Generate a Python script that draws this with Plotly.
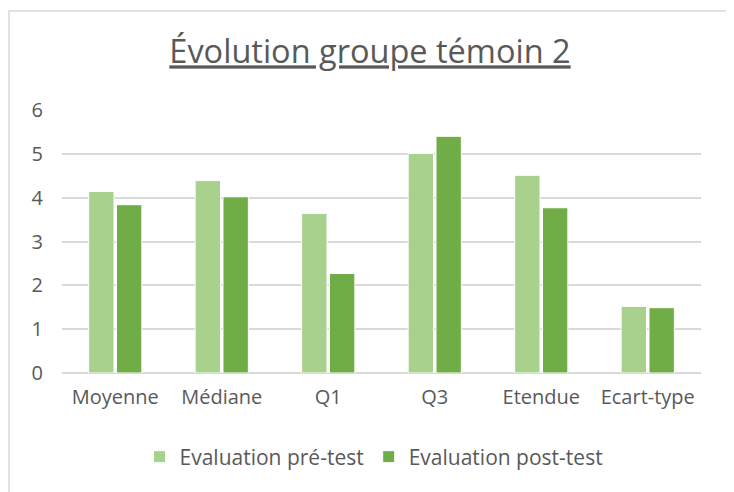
import plotly.graph_objects as go

categories = ["Moyenne", "Médiane", "Q1", "Q3", "Etendue", "Ecart-type"]
pre_test = [4.14, 4.39, 3.64, 5.01, 4.51, 1.52]
post_test = [3.84, 4.02, 2.27, 5.40, 3.77, 1.49]
series_names = ["Evaluation pré-test", "Evaluation post-test"]
title_text = "Évolution groupe témoin 2"

# page body has an 8px default margin; figure is sized to fill the rest
OFF = 8
W, H = 734 - OFF, 492 - OFF
PL, PR, PT, PB = 62, 701, 110, 373      # plot area in window pixels
L, R, T, B = PL - OFF, 734 - PR, PT - OFF, 492 - PB
pw, ph = PR - PL, PB - PT

font_family = "Open Sans"
text_color = "#595959"
grid_color = "#D9D9D9"

fig = go.Figure()
fig.add_trace(go.Bar(x=categories, y=pre_test, name=series_names[0],
                     marker=dict(color="#A9D18E", line=dict(color="white", width=1))))
fig.add_trace(go.Bar(x=categories, y=post_test, name=series_names[1],
                     marker=dict(color="#70AD47", line=dict(color="white", width=1))))

def px_x(p):
    return (p - PL) / pw

def px_y(p):
    return (PB - p) / ph

fig.update_layout(
    width=W, height=H,
    margin=dict(l=L, r=R, t=T, b=B, autoexpand=False),
    paper_bgcolor="white", plot_bgcolor="white",
    barmode="group", bargap=0.477, bargroupgap=0.09,
    font=dict(family=font_family, color=text_color, size=20),
    title=dict(text="<u>" + title_text + "</u>", x=px_x(370), xref="paper", xanchor="center",
               y=1 - (52 - OFF) / H, yref="container", yanchor="middle",
               font=dict(size=32.5, color=text_color, family=font_family)),
    xaxis=dict(showgrid=False, showline=False, ticks="", ticklabelstandoff=10,
               tickfont=dict(size=20, color=text_color)),
    yaxis=dict(range=[0, 6], dtick=1, showgrid=True, gridcolor=grid_color, gridwidth=1.5,
               zeroline=True, zerolinecolor=grid_color, zerolinewidth=1.5,
               showline=False, ticks="", ticklabelstandoff=18,
               tickfont=dict(size=20, color=text_color)),
    legend=dict(orientation="h", x=px_x(374), xanchor="center", y=px_y(457), yanchor="middle",
                font=dict(size=21, color=text_color), itemwidth=30, traceorder="normal"),
    shapes=[dict(type="rect", xref="paper", yref="paper",
                 x0=px_x(9), x1=px_x(730), y0=px_y(520), y1=px_y(11),
                 line=dict(color=grid_color, width=1.5), layer="below")],
)

fig.write_html("out.html")
